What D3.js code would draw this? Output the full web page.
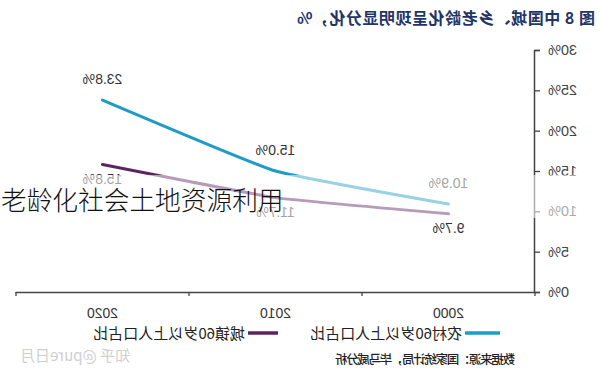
<!DOCTYPE html>
<html><head><meta charset="utf-8">
<script src="https://cdn.jsdelivr.net/npm/d3@7"></script>
<style>body{margin:0;background:#fff}svg{display:block;font-family:"Noto Sans CJK SC","Noto Sans",sans-serif}</style>
</head><body>
<svg id="c" width="600" height="383"></svg>
<script>
const years = ["2000","2010","2020"];
const rural = [10.9, 15.0, 23.8];
const urban = [9.7, 11.7, 15.8];
const yTicks = [0,5,10,15,20,25,30];
const seriesNames = ["农村60岁以上人口占比","城镇60岁以上人口占比"];
const titleText = "图 8 中国城、乡老龄化呈现明显分化，%";
const sourceText = "数据来源：国家统计局，毕马威分析";
const watermark = "知乎 @pure日月";
const overlayText = "老龄化社会土地资源利用";

const W = 600, H = 383;
const svg = d3.select("#c");
svg.append("rect").attr("width",W).attr("height",H).attr("fill","#fff");

// whole chart is drawn mirrored horizontally
const g = svg.append("g").attr("transform",`translate(${W},0) scale(-1,1)`);

const x = d3.scaleBand().domain(years).range([65,584]);
const y = d3.scaleLinear().domain([0,30]).range([292,50]);

// title
g.append("text").attr("x",5).attr("y",24).attr("font-size",16).attr("font-weight","bold")
 .attr("fill","#1f3566").attr("textLength",298).text(titleText);

// y axis
const ya = g.append("g").attr("transform","translate(65,0)")
 .call(d3.axisLeft(y).tickValues(yTicks).tickSize(5).tickFormat(d=>d+"%"));
ya.select(".domain").attr("stroke","#444").attr("stroke-width",1.5);
ya.selectAll(".tick line").attr("stroke","#444").attr("stroke-width",1.3);
ya.selectAll(".tick text").attr("font-size",14.5).attr("fill","#444").attr("x",-13)
 .attr("font-family","'Liberation Sans',sans-serif");

// x axis
const xa = g.append("g").attr("transform","translate(0,292)")
 .call(d3.axisBottom(x).tickSize(0).tickPadding(16));
xa.select(".domain").attr("stroke","#444").attr("stroke-width",1.5);
xa.selectAll(".tick text").attr("font-size",14).attr("fill","#333")
 .attr("font-family","'Liberation Sans',sans-serif");
const bounds = [65, ...years.map(d=>x(d)+x.bandwidth())];
g.append("g").selectAll("line").data(bounds).join("line")
 .attr("x1",d=>d).attr("x2",d=>d).attr("y1",292).attr("y2",296)
 .attr("stroke","#444").attr("stroke-width",1.3);

const cx = d => x(d)+x.bandwidth()/2;
const line = d3.line().x((d,i)=>cx(years[i])).y(d=>y(d)).curve(d3.curveCardinal.tension(0.65));
const colors = ["#1f9cc6","#5e2462"];

[rural, urban].forEach((s,k)=>{
  g.append("path").attr("d",line(s)).attr("fill","none")
   .attr("stroke",colors[k]).attr("stroke-width",3).attr("stroke-linecap","round");
  g.append("g").selectAll("text").data(s).join("text")
   .attr("x",(d,i)=>cx(years[i]))
   .attr("y",d=> k===0 ? y(d)-16 : y(d)+19)
   .attr("text-anchor","middle").attr("font-size",14).attr("fill","#333")
   .attr("font-family","'Liberation Sans',sans-serif")
   .text(d=>d.toFixed(1)+"%");
});

// legend
const leg = [{x1:100,x2:135,tx:138},{x1:322,x2:352,tx:355}];
leg.forEach((L,k)=>{
  g.append("line").attr("x1",L.x1).attr("x2",L.x2).attr("y1",333).attr("y2",333)
   .attr("stroke",colors[k]).attr("stroke-width",3.5);
  g.append("text").attr("x",L.tx).attr("y",339).attr("font-size",15).attr("fill","#222")
   .text(seriesNames[k]);
});

// source and watermark
g.append("text").attr("x",85).attr("y",364).attr("font-size",12.5).attr("font-weight",500)
 .attr("fill","#222").attr("textLength",180).text(sourceText);
g.append("text").attr("x",470).attr("y",361).attr("font-size",15).attr("fill","#d0d0d0")
 .text(watermark);

// translucent band and overlay text (not mirrored)
svg.append("rect").attr("x",0).attr("y",175).attr("width",W).attr("height",43)
 .attr("fill","#fff").attr("opacity",0.55);
svg.append("text").attr("x",1).attr("y",210).attr("font-size",25.7).attr("fill","#111")
 .attr("font-weight",300).text(overlayText);
</script>
</body></html>
